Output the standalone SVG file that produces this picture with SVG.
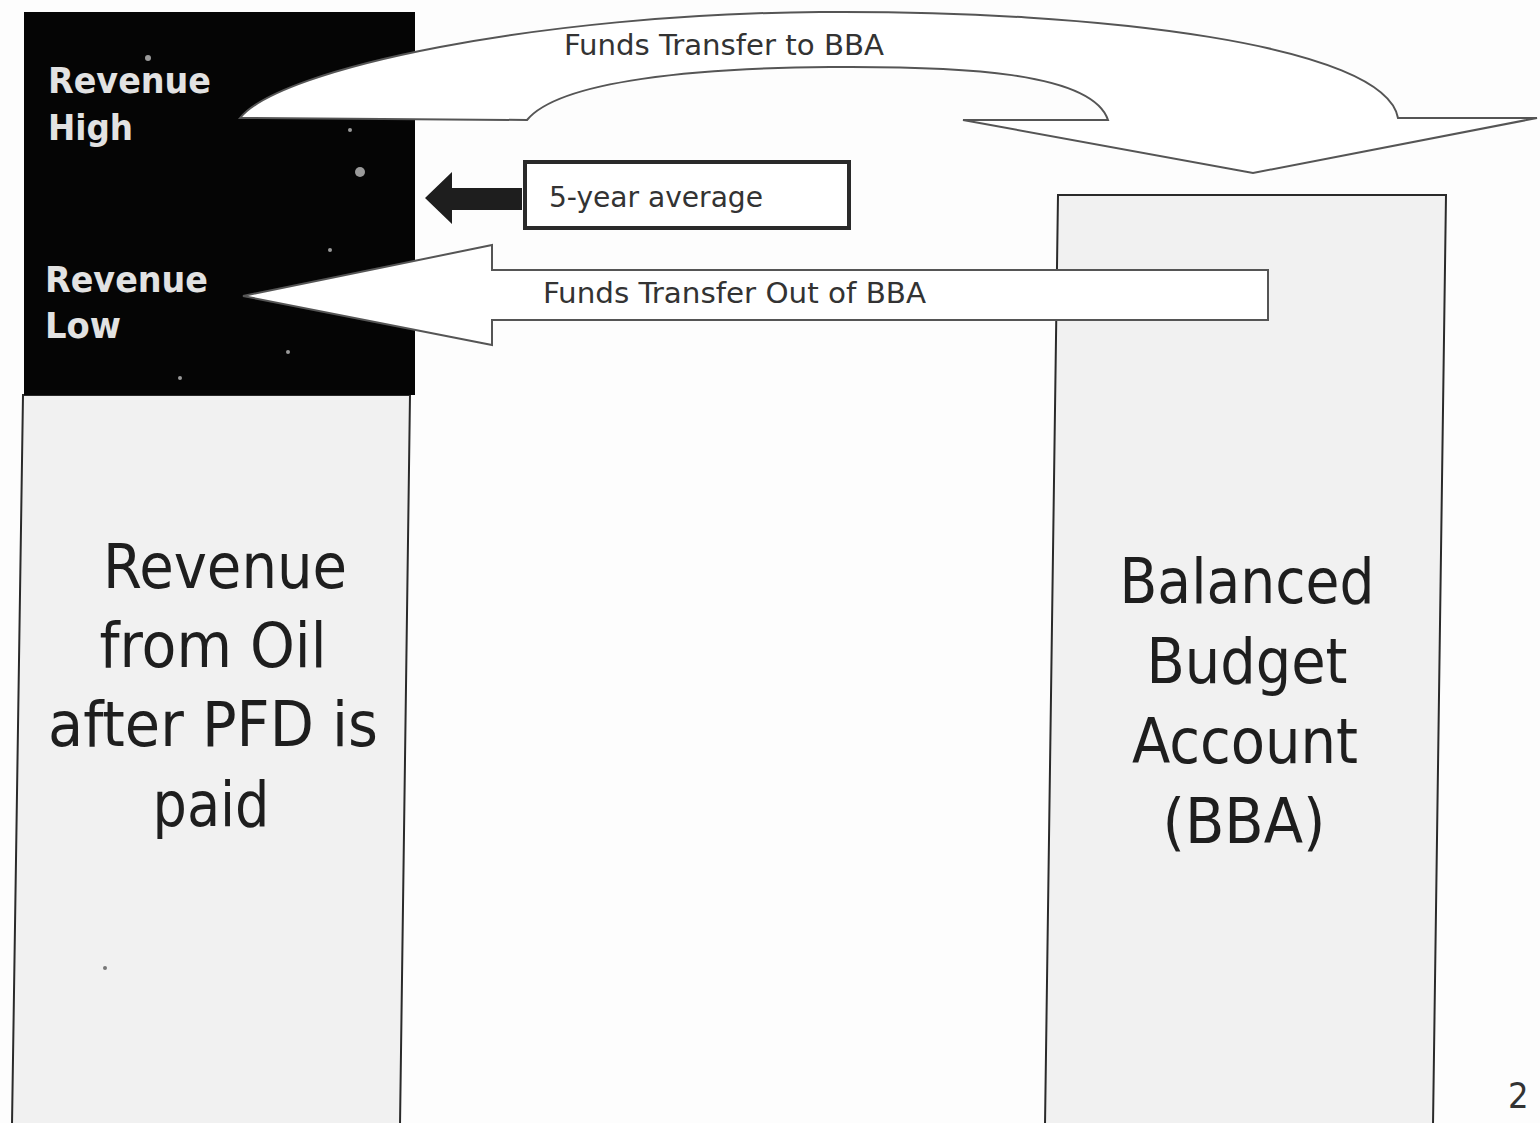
<svg xmlns="http://www.w3.org/2000/svg" width="1540" height="1123" viewBox="0 0 1540 1123">
<style>
.box{fill:#f1f1f1;stroke:#2a2a2a;stroke-width:2}
.big{font-family:"DejaVu Sans Condensed","DejaVu Sans",Verdana,sans-serif;font-size:62px;fill:#1e1e1e;text-anchor:middle}
.lbl{font-family:"DejaVu Sans Condensed","DejaVu Sans",Verdana,sans-serif;font-size:28px;fill:#333}
.rev{font-family:"DejaVu Sans Condensed","DejaVu Sans",Verdana,sans-serif;font-weight:bold;font-size:35px;fill:#e2e2e2}
.conn{fill:#fff;stroke:#555;stroke-width:2;stroke-linejoin:miter}
</style>
<rect width="1540" height="1123" fill="#fdfdfd"/>
<g id="oil-revenue">
<polygon class="box" points="23,395 410,395 400,1125 12,1125"/>
<rect x="24" y="12" width="391" height="383" fill="#050505"/>
<g fill="#9a9a9a">
<circle cx="360" cy="172" r="5"/><circle cx="148" cy="58" r="3"/><circle cx="330" cy="250" r="2"/><circle cx="288" cy="352" r="2"/><circle cx="180" cy="378" r="2"/><circle cx="350" cy="130" r="2"/><circle cx="105" cy="968" r="2" fill="#777"/>
</g>
<text class="rev" x="48" y="93" textLength="163" lengthAdjust="spacingAndGlyphs">Revenue</text>
<text class="rev" x="48" y="140" textLength="85" lengthAdjust="spacingAndGlyphs">High</text>
<text class="rev" x="45" y="292" textLength="163" lengthAdjust="spacingAndGlyphs">Revenue</text>
<text class="rev" x="45" y="338" textLength="76" lengthAdjust="spacingAndGlyphs">Low</text>
<text class="big" x="225" y="588" textLength="244" lengthAdjust="spacingAndGlyphs">Revenue</text>
<text class="big" x="213" y="667" textLength="227" lengthAdjust="spacingAndGlyphs">from Oil</text>
<text class="big" x="213" y="746" textLength="330" lengthAdjust="spacingAndGlyphs">after PFD is</text>
<text class="big" x="211" y="826" textLength="117" lengthAdjust="spacingAndGlyphs">paid</text>
</g>
<g id="bba">
<polygon class="box" points="1058,195 1446,195 1433,1125 1045,1125"/>
<text class="big" x="1247" y="603" textLength="255" lengthAdjust="spacingAndGlyphs">Balanced</text>
<text class="big" x="1247" y="683" textLength="201" lengthAdjust="spacingAndGlyphs">Budget</text>
<text class="big" x="1245" y="763" textLength="226" lengthAdjust="spacingAndGlyphs">Account</text>
<text class="big" x="1244" y="843" textLength="163" lengthAdjust="spacingAndGlyphs">(BBA)</text>
</g>
<g id="five-year-average">
<rect x="525" y="162" width="324" height="66" fill="#fff" stroke="#2a2a2a" stroke-width="4"/>
<text class="lbl" x="549" y="207" font-size="30" textLength="214" lengthAdjust="spacingAndGlyphs">5-year average</text>
</g>
<g id="connectors">
<path class="conn" d="M240,118 C280,68 540,14 820,12 C1100,10 1385,45 1398,118 L1537,118 L1253,173 L963,120 L1108,120 C1092,72 960,66 830,67 C700,68 560,80 527,120 Z"/>
<polygon fill="#1e1e1e" points="425,198 452,172 452,188 522,188 522,210 452,210 452,224"/>
<polygon class="conn" points="243,296 492,245 492,270 1268,270 1268,320 492,320 492,345"/>
<text class="lbl" x="564" y="55" textLength="320" lengthAdjust="spacingAndGlyphs">Funds Transfer to BBA</text>
<text class="lbl" x="543" y="303" textLength="383" lengthAdjust="spacingAndGlyphs">Funds Transfer Out of BBA</text>
</g>
<text x="1508" y="1108" font-family="DejaVu Sans Condensed,DejaVu Sans,sans-serif" font-size="36" fill="#333">2</text>
</svg>
